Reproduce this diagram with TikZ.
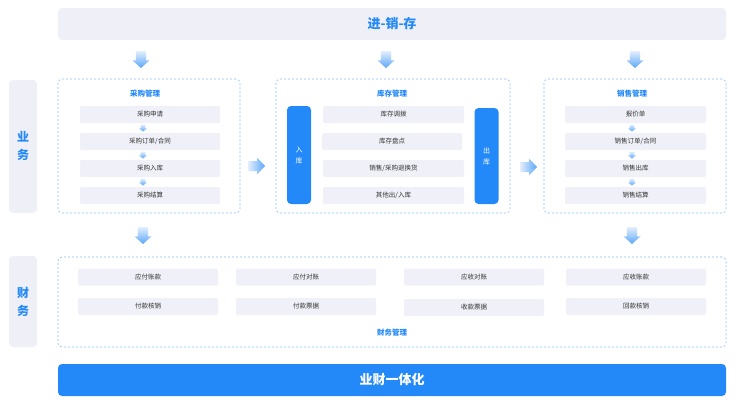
\documentclass[tikz,border=0pt]{standalone}
\usepackage{fontspec}
\newfontfamily\cjk{Noto Sans CJK SC}
\usetikzlibrary{positioning}
\definecolor{mainblue}{HTML}{2389F9}
\definecolor{panelfill}{HTML}{EFF0F7}
\definecolor{itemfill}{HTML}{F0F1F8}
\definecolor{dashblue}{HTML}{86BDF7}
\definecolor{txt}{HTML}{333333}
\definecolor{arrlight}{HTML}{E3EFFD}
\definecolor{arrdark}{HTML}{5BA6F8}
\tikzset{
  panel/.style={fill=panelfill, rounded corners=4pt, inner sep=0pt},
  group/.style={draw=dashblue, line width=0.6pt, dash pattern=on 2pt off 2pt, rounded corners=4pt, inner sep=0pt},
  item/.style={fill=itemfill, rounded corners=2pt, inner sep=0pt, minimum height=17pt, text=txt, font=\cjk\fontsize{6.5}{7}\selectfont},
  gtitle/.style={text=mainblue, font=\cjk\bfseries\fontsize{7.5}{8}\selectfont, inner sep=0pt},
  sidebox/.style={fill=panelfill, rounded corners=4pt, inner sep=0pt, minimum width=28pt},
  sidetext/.style={text=mainblue, align=center, font=\cjk\bfseries\fontsize{12}{18}\selectfont, inner sep=0pt},
  bar/.style={fill=mainblue, rounded corners=4pt, inner sep=0pt, minimum width=24pt, text=white, align=center, font=\cjk\fontsize{7}{11}\selectfont},
  pics/downarr/.style args={#1/#2}{code={
    \shade[top color=arrlight, bottom color=arrdark]
      (-#1*0.3,0) -- (#1*0.3,0) -- (#1*0.3,#2*0.55) -- (#1*0.5,#2*0.55) -- (0,#2) -- (-#1*0.5,#2*0.55) -- (-#1*0.3,#2*0.55) -- cycle;
  }},
  pics/rightarr/.style={code={
    \shade[left color=arrlight, right color=arrdark]
      (0,-5) -- (9,-5) -- (9,-8.5) -- (17,0) -- (9,8.5) -- (9,5) -- (0,5) -- cycle;
  }},
}
\begin{document}
\begin{tikzpicture}[x=1pt,y=-1pt]
\useasboundingbox (0,0) rectangle (740,408);
\fill[white] (0,0) rectangle (740,408);

% top bar
\node[panel, minimum width=668pt, minimum height=32pt] (top) at (392,24) {};
\node[text=mainblue, font=\cjk\bfseries\fontsize{13}{14}\selectfont] (toptxt) at (top.center) {进-销-存};

% side labels
\node[sidebox, minimum height=133pt] (side1) at (23,146.5) {};
\node[sidetext] (side1t) at (side1.center) {业\\务};
\node[sidebox, minimum height=91pt] (side2) at (23,301.5) {};
\node[sidetext] (side2t) at (side2.center) {财\\务};

% down arrows from top
\pic at (141,51) {downarr={17/17}};
\pic at (386,51) {downarr={17/17}};
\pic at (635,51) {downarr={17/17}};

% purchase group
\node[group, minimum width=182pt, minimum height=134pt] (pg) at (149,146) {};
\node[gtitle] (pgt) at (145,94) {采购管理};
\node[item, minimum width=140pt] (p1) at (150,114.5) {采购申请};
\node[item, minimum width=140pt] (p2) at (150,141.5) {采购订单/合同};
\node[item, minimum width=140pt] (p3) at (150,168.5) {采购入库};
\node[item, minimum width=140pt] (p4) at (150,195.5) {采购结算};
\pic at (143,124.5) {downarr={8/7}};
\pic at (143,151.5) {downarr={8/7}};
\pic at (143,178.5) {downarr={8/7}};

% arrow between
\pic at (248,166) {rightarr};
\pic at (520,167) {rightarr};

% inventory group
\node[group, minimum width=234pt, minimum height=134pt] (ig) at (393,146) {};
\node[gtitle] (igt) at (392,94) {库存管理};
\node[bar, minimum height=98pt] (in) at (299,155) {入\\库};
\node[bar, minimum height=96pt] (out) at (486.5,156) {出\\库};
\node[item, minimum width=141pt] (i1) at (393.5,114.5) {库存调拨};
\node[item, minimum width=140pt] (i2) at (392,141.5) {库存盘点};
\node[item, minimum width=141pt] (i3) at (393.5,168.5) {销售/采购退换货};
\node[item, minimum width=141pt] (i4) at (393.5,195.5) {其他出/入库};

% sales group
\node[group, minimum width=182pt, minimum height=134pt] (sg) at (635,146) {};
\node[gtitle] (sgt) at (632,94) {销售管理};
\node[item, minimum width=141pt] (s1) at (635.5,114.5) {报价单};
\node[item, minimum width=141pt] (s2) at (635.5,141.5) {销售订单/合同};
\node[item, minimum width=141pt] (s3) at (635.5,168.5) {销售出库};
\node[item, minimum width=141pt] (s4) at (635.5,195.5) {销售结算};
\pic at (632,124.5) {downarr={8/7}};
\pic at (632,151.5) {downarr={8/7}};
\pic at (632,178.5) {downarr={8/7}};

% down arrows to finance
\pic at (143,227) {downarr={17/17}};
\pic at (632,227) {downarr={17/17}};

% finance group
\node[group, minimum width=668pt, minimum height=90pt] (fg) at (392,302) {};
\node[item, minimum width=140pt] (f1) at (148,277) {应付账款};
\node[item, minimum width=140pt] (f2) at (306,277) {应付对账};
\node[item, minimum width=140pt] (f3) at (474,277) {应收对账};
\node[item, minimum width=140pt] (f4) at (636,277) {应收账款};
\node[item, minimum width=140pt] (f5) at (148,306.5) {付款核销};
\node[item, minimum width=140pt] (f6) at (306,306.5) {付款票据};
\node[item, minimum width=140pt] (f7) at (474,307.5) {收款票据};
\node[item, minimum width=140pt] (f8) at (636,306.5) {回款核销};
\node[gtitle] (fgt) at (392,333) {财务管理};

% bottom bar
\node[fill=mainblue, rounded corners=4pt, inner sep=0pt, minimum width=668pt, minimum height=32pt] (bot) at (392,380) {};
\node[text=white, font=\cjk\bfseries\fontsize{13}{14}\selectfont] (bottxt) at (bot.center) {业财一体化};
\end{tikzpicture}
\end{document}
